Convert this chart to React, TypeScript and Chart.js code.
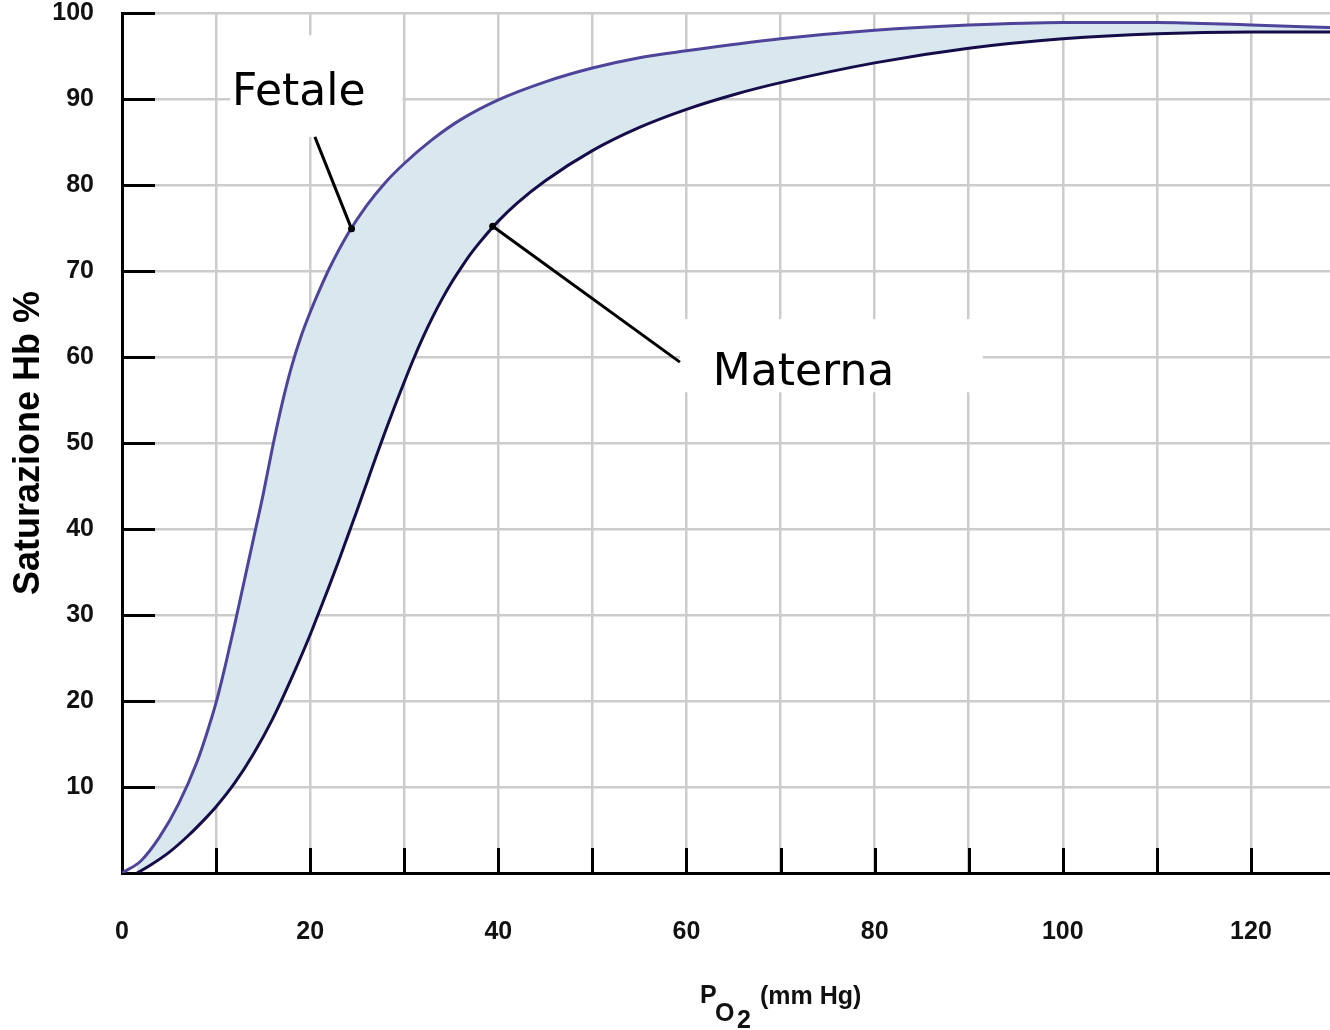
import React, { useEffect, useRef } from "react";
import { Chart, registerables } from "chart.js";

Chart.register(...registerables);

// ---- Data ----
const fetaleP = [0, 2, 4, 6, 8, 9, 10, 11, 12, 13, 14, 15, 16, 17, 18, 19, 20, 21, 22, 24, 26, 28, 30, 33, 36, 40, 45, 50, 55, 60, 70, 80, 90, 100, 110, 120, 128.4];
const fetaleSat = [0, 1.4, 4.2, 8, 13, 16.2, 19.8, 24.2, 29, 34, 39, 44, 49.5, 54.5, 58.8, 62.3, 65.2, 67.8, 70.2, 74.3, 77.6, 80.3, 82.5, 85.3, 87.6, 89.9, 92, 93.6, 94.8, 95.6, 97, 98, 98.6, 98.9, 98.9, 98.6, 98.3];

const maternaP = [1.6, 3, 5, 7, 9, 10, 12, 14, 16, 18, 20, 21, 22, 23, 24, 25, 26, 27, 28, 29, 30, 31, 32, 33, 34, 35, 36, 37, 38, 40, 42, 45, 50, 55, 60, 65, 70, 80, 90, 100, 110, 120, 128.4];
const maternaSat = [0, 0.9, 2.4, 4.3, 6.5, 7.7, 10.5, 13.9, 17.9, 22.6, 27.7, 30.5, 33.3, 36.2, 39.2, 42.2, 45.3, 48.4, 51.4, 54.3, 57.1, 59.8, 62.3, 64.6, 66.7, 68.6, 70.3, 71.9, 73.3, 75.8, 77.9, 80.5, 84, 86.7, 88.8, 90.5, 91.9, 94.2, 95.9, 97, 97.6, 97.8, 97.8];

const seriesNames = ["Fetale", "Materna"];
const xLabeledTicks = [0, 20, 40, 60, 80, 100, 120];
const yLabeledTicks = [10, 20, 30, 40, 50, 60, 70, 80, 90, 100];
const yTitle = "Saturazione Hb %";

// Annotation anchors in data units
const fetaleLabelAt = { x: 11.7, y: 89.3 };
const fetaleBox = { x0: 11.5, x1: 29.8, y0: 85.6, y1: 97.4 };
const fetaleArrowFrom = { x: 20.5, y: 85.6 };
const fetaleArrowTo = { x: 24.4, y: 74.9 };
const maternaLabelAt = { x: 62.8, y: 56.7 };
const maternaBox = { x0: 59.3, x1: 91.5, y0: 55.9, y1: 64.4 };
const maternaArrowFrom = { x: 59.3, y: 59.4 };
const maternaArrowTo = { x: 39.4, y: 75.2 };

const toPoints = (xs: number[], ys: number[]) => xs.map((x, i) => ({ x, y: ys[i] }));

const TICK_FONT = "Liberation Sans, Arial, sans-serif";
const HAND_FONT = "'Comic Sans MS', 'DejaVu Sans', sans-serif";

const overlayPlugin = {
  id: "overlay",
  beforeDatasetsDraw(chart: any) {
    const { ctx, chartArea, scales } = chart;
    const x = scales.x;
    const y = scales.y;
    ctx.save();
    ctx.strokeStyle = "#000";
    ctx.lineWidth = 3;
    ctx.lineCap = "butt";
    ctx.beginPath();
    y.ticks.forEach((t: any) => {
      if (t.value === 0) return;
      const py = Math.round(y.getPixelForValue(t.value)) + 0.5;
      ctx.moveTo(chartArea.left, py);
      ctx.lineTo(chartArea.left + 33, py);
    });
    x.ticks.forEach((t: any) => {
      if (t.value === 0) return;
      const px = Math.round(x.getPixelForValue(t.value)) + 0.5;
      ctx.moveTo(px, chartArea.bottom);
      ctx.lineTo(px, chartArea.bottom - 25);
    });
    ctx.stroke();
    ctx.fillStyle = "#ffffff";
    [fetaleBox, maternaBox].forEach((b) => {
      const l = x.getPixelForValue(b.x0);
      const r = x.getPixelForValue(b.x1);
      const tp = y.getPixelForValue(b.y1);
      const bt = y.getPixelForValue(b.y0);
      ctx.fillRect(l, tp, r - l, bt - tp);
    });
    ctx.restore();
  },
  afterDatasetsDraw(chart: any) {
    const { ctx, scales } = chart;
    const x = scales.x;
    const y = scales.y;
    ctx.save();
    ctx.fillStyle = "#000";
    ctx.font = `44px ${HAND_FONT}`;
    ctx.textBaseline = "alphabetic";
    ctx.textAlign = "left";
    ctx.fillText(seriesNames[0], x.getPixelForValue(fetaleLabelAt.x), y.getPixelForValue(fetaleLabelAt.y));
    ctx.fillText(seriesNames[1], x.getPixelForValue(maternaLabelAt.x), y.getPixelForValue(maternaLabelAt.y));
    ctx.strokeStyle = "#000";
    ctx.lineWidth = 3;
    const arrows = [
      [fetaleArrowFrom, fetaleArrowTo],
      [maternaArrowFrom, maternaArrowTo],
    ];
    arrows.forEach(([a, b]) => {
      const ax = x.getPixelForValue(a.x), ay = y.getPixelForValue(a.y);
      const bx = x.getPixelForValue(b.x), by = y.getPixelForValue(b.y);
      ctx.beginPath();
      ctx.moveTo(ax, ay);
      ctx.lineTo(bx, by);
      ctx.stroke();
      ctx.beginPath();
      ctx.arc(bx, by, 3.5, 0, Math.PI * 2);
      ctx.fill();
    });
    ctx.restore();
  },
  afterDraw(chart: any) {
    const { ctx } = chart;
    ctx.save();
    ctx.fillStyle = "#111";
    ctx.textAlign = "left";
    ctx.textBaseline = "alphabetic";
    ctx.font = `bold 25px ${TICK_FONT}`;
    ctx.fillText("P", 700, 1003);
    ctx.fillText("O", 715, 1021);
    ctx.fillText("2", 737, 1028);
    ctx.fillText("(mm Hg)", 760, 1004);
    ctx.restore();
  },
};

export default function App() {
  const ref = useRef<HTMLCanvasElement | null>(null);

  useEffect(() => {
    if (!ref.current) return;
    const chart = new Chart(ref.current, {
      type: "line",
      data: {
        datasets: [
          {
            label: seriesNames[0],
            data: toPoints(fetaleP, fetaleSat),
            borderColor: "#4e4499",
            borderWidth: 3,
            backgroundColor: "#d9e8ee",
            fill: "+1",
            pointRadius: 0,
            cubicInterpolationMode: "monotone",
          },
          {
            label: seriesNames[1],
            data: toPoints(maternaP, maternaSat),
            borderColor: "#150d4a",
            borderWidth: 3,
            backgroundColor: "#d9e8ee",
            fill: false,
            pointRadius: 0,
            cubicInterpolationMode: "monotone",
          },
        ],
      },
      options: {
        animation: false,
        responsive: true,
        maintainAspectRatio: false,
        layout: { padding: { top: 13, left: 0, right: 0, bottom: 0 } },
        plugins: {
          legend: { display: false },
          tooltip: { enabled: false },
          filler: { drawTime: "beforeDatasetsDraw" },
        },
        scales: {
          x: {
            type: "linear",
            min: 0,
            max: 128.4,
            grid: { color: "#cccccc", lineWidth: 2.5, drawTicks: false },
            border: { color: "#000", width: 3 },
            ticks: {
              stepSize: 10,
              includeBounds: false,
              autoSkip: false,
              maxRotation: 0,
              padding: 44,
              color: "#111",
              font: { family: TICK_FONT, size: 25, weight: "bold" },
              callback: (v: any) => (xLabeledTicks.includes(Number(v)) ? String(v) : ""),
            },
            afterFit: (s: any) => {
              s.height = 157;
              s.paddingLeft = 0;
              s.paddingRight = 0;
            },
          },
          y: {
            type: "linear",
            min: 0,
            max: 100,
            grid: { color: "#cccccc", lineWidth: 2.5, drawTicks: false },
            border: { color: "#000", width: 3 },
            ticks: {
              stepSize: 10,
              autoSkip: false,
              padding: 28,
              color: "#111",
              font: { family: TICK_FONT, size: 25, weight: "bold" },
              callback: (v: any) => (yLabeledTicks.includes(Number(v)) ? String(v) : ""),
            },
            title: {
              display: true,
              text: yTitle,
              color: "#000",
              padding: { top: 7, bottom: 0 },
              font: { family: TICK_FONT, size: 36, weight: "bold" },
            },
            afterFit: (s: any) => {
              s.width = 122;
              s.paddingTop = 0;
              s.paddingBottom = 0;
            },
          },
        },
      },
      plugins: [overlayPlugin],
    } as any);
    return () => chart.destroy();
  }, []);

  return (
    <div style={{ position: "fixed", left: 0, top: 0, width: 1330, height: 1030, background: "#ffffff" }}>
      <canvas ref={ref} />
    </div>
  );
}
